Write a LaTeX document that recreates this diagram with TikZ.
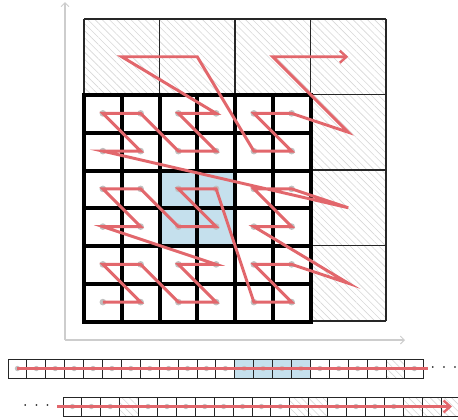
\documentclass[tikz,border=0pt]{standalone}
\usetikzlibrary{arrows.meta,patterns.meta}
\definecolor{zred}{RGB}{226,103,108}
\definecolor{cellblue}{RGB}{197,224,237}
\definecolor{dotgray}{RGB}{192,192,192}
\definecolor{hatchgray}{RGB}{215,215,215}
\definecolor{axisgray}{RGB}{205,205,205}
\begin{document}
\begin{tikzpicture}[x=0.75pt,y=-0.75pt,
  hatch/.style={pattern={Lines[angle=-45,distance=3.8pt,line width=0.45pt]},pattern color=hatchgray},
  biggrid/.style={line width=0.9pt,draw=black!85},
  smallgrid/.style={line width=3pt,draw=black},
  cellline/.style={line width=0.7pt,draw=black!85},
  gdot/.style={fill=dotgray,draw=none},
  zline/.style={draw=zred,line width=2.2pt},
  zarrow/.style={zline,-{Straight Barb[length=5pt,width=9pt,line width=1.8pt]}},
  axisline/.style={draw=axisgray,line width=0.8pt,-{Straight Barb[length=3pt,width=6pt,line width=0.7pt]}}
]
\useasboundingbox (0,0) rectangle (458,419);

% axes
\coordinate (origin) at (65,340);
\coordinate (ytop) at (65,2);
\coordinate (xend) at (405,340);
\draw[axisline] (origin) -- (ytop);
\draw[axisline] (origin) -- (xend);

% coarse grid area
\fill[hatch] (84,19) rectangle (386,321);
\fill[white] (84,95) rectangle (311,321);
\fill[cellblue] (160,170) rectangle (235,246);
\foreach \k in {0,...,4}{
  \draw[biggrid] ({84+75.5*\k},19) -- ({84+75.5*\k},321);
  \draw[biggrid] (84,{19+75.5*\k}) -- (386,{19+75.5*\k});
}
% fine grid
\foreach \k in {0,...,6}{
  \draw[smallgrid,line cap=rect] ({84+37.75*\k},95) -- ({84+37.75*\k},321);
  \draw[smallgrid,line cap=rect] (84,{95+37.75*\k}) -- (311,{95+37.75*\k});
}

% fine cell centres
\foreach \i in {0,...,5}{
  \foreach \j in {0,...,5}{
    \coordinate (s\i\j) at ({84+37.75*(\i+0.5)},{321-37.75*(\j+0.5)});
    \fill[gdot] (s\i\j) circle[radius=2.5pt];
  }
}
% coarse cell centres (unrefined cells)
\coordinate (L30) at (348.25,283.25);
\coordinate (L31) at (348.25,207.75);
\coordinate (L32) at (348.25,132.25);
\coordinate (L03) at (121.75,56.75);
\coordinate (L13) at (197.25,56.75);
\coordinate (L23) at (272.75,56.75);
\coordinate (L33) at (348.25,56.75);

% Morton curve
\draw[zarrow] (s00) -- (s10) -- (s01) -- (s11) -- (s20) -- (s30) -- (s21) -- (s31)
  -- (s02) -- (s12) -- (s03) -- (s13) -- (s22) -- (s32) -- (s23) -- (s33)
  -- (s40) -- (s50) -- (s41) -- (s51) -- (L30)
  -- (s42) -- (s52) -- (s43) -- (s53) -- (L31)
  -- (s04) -- (s14) -- (s05) -- (s15) -- (s24) -- (s34) -- (s25) -- (s35)
  -- (L03) -- (L13)
  -- (s44) -- (s54) -- (s45) -- (s55) -- (L32) -- (L23) -- (L33);

% upper strip
\fill[cellblue] ({8+18.9*12},359) rectangle ({8+18.9*16},378);
\fill[hatch] ({8+18.9*20},359) rectangle ({8+18.9*21},378);
\foreach \p in {0,...,21}{
  \draw[cellline] ({8+18.9*\p},359) rectangle ({8+18.9*(\p+1)},378);
}
\foreach \p in {0,...,19,21}{
  \coordinate (t\p) at ({8+18.9*(\p+0.5)},368.5);
  \fill[gdot] (t\p) circle[radius=2pt];
}
\coordinate (tend) at (428,368.5);
\draw[zline] (t0) -- (tend);
\node[inner sep=0pt,font=\fontsize{12}{14}\selectfont] (tdots) at (444,367.5) {$\cdot$\hspace{5pt}$\cdot$\hspace{5pt}$\cdot$};

% lower strip
\foreach \p in {3,12,13,18,19,20}{
  \fill[hatch] ({63+18.9*\p},397) rectangle ({63+18.9*(\p+1)},416);
}
\foreach \p in {0,...,20}{
  \draw[cellline] ({63+18.9*\p},397) rectangle ({63+18.9*(\p+1)},416);
}
\foreach \p in {0,1,2,4,5,6,7,8,9,10,11,14,15,16,17}{
  \coordinate (b\p) at ({63+18.9*(\p+0.5)},406.5);
  \fill[gdot] (b\p) circle[radius=2pt];
}
\coordinate (bstart) at (57,406.5);
\coordinate (bend) at (452,406.5);
\draw[zarrow] (bstart) -- (bend);
\node[inner sep=0pt,font=\fontsize{12}{14}\selectfont] (bdots) at (36.5,405.5) {$\cdot$\hspace{5pt}$\cdot$\hspace{5pt}$\cdot$};
\end{tikzpicture}
\end{document}
